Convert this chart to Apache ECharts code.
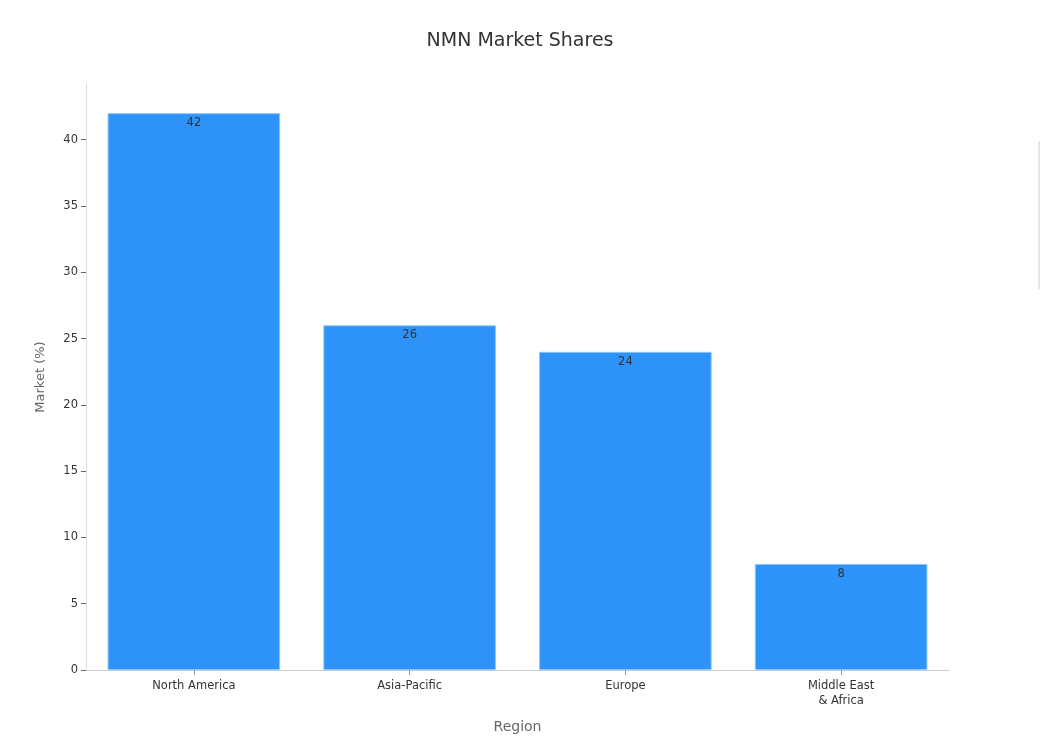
<!DOCTYPE html>
<html>
<head>
<meta charset="utf-8">
<script src="https://cdn.jsdelivr.net/npm/echarts@6/dist/echarts.min.js"></script>
<style>
  html, body { margin: 0; padding: 0; background: #fff; overflow: hidden; }
  #chart { width: 1040px; height: 756px; }
</style>
</head>
<body>
<div id="chart"></div>
<script>
// data
var regions = ['North America', 'Asia-Pacific', 'Europe', 'Middle East\n& Africa'];
var shares = [42, 26, 24, 8];
var yTicks = [0, 5, 10, 15, 20, 25, 30, 35, 40];

var chart = echarts.init(document.getElementById('chart'));
var font = 'DejaVu Sans';

chart.setOption({
  animation: false,
  textStyle: { fontFamily: font },
  title: {
    text: 'NMN Market Shares',
    left: 'center',
    top: 27,
    textStyle: { fontFamily: font, fontSize: 19, fontWeight: 'normal', color: '#333' }
  },
  grid: { left: 86, right: 91, top: 84, bottom: 86 },
  xAxis: {
    type: 'category',
    data: regions,
    name: 'Region',
    nameLocation: 'middle',
    nameGap: 50,
    nameTextStyle: { fontSize: 14, color: '#666' },
    axisLine: { lineStyle: { color: '#ccc' } },
    axisTick: { show: true, alignWithLabel: true, length: 5, lineStyle: { color: '#999' } },
    axisLabel: { fontSize: 11.5, color: '#333', margin: 9, lineHeight: 15 }
  },
  yAxis: {
    type: 'value',
    min: 0,
    max: 44.2,
    name: 'Market (%)',
    nameLocation: 'middle',
    nameGap: 39,
    nameTextStyle: { fontSize: 13, color: '#666' },
    splitLine: { show: false },
    axisLine: { show: true, lineStyle: { color: '#ddd' } },
    axisTick: { show: true, length: 5, customValues: yTicks, lineStyle: { color: '#666' } },
    axisLabel: { fontSize: 11.5, color: '#333', margin: 8, customValues: yTicks }
  },
  series: [{
    type: 'bar',
    data: shares,
    barWidth: '80%',
    itemStyle: { color: '#2e93f8', borderColor: '#8cc6ff', borderWidth: 1 },
    label: {
      show: true,
      position: 'insideTop',
      distance: 4,
      fontSize: 11.5,
      color: '#333'
    }
  }],
  graphic: [{
    type: 'rect',
    shape: { x: 1038, y: 141, width: 2, height: 148 },
    style: { fill: '#e6e6e6' }
  }]
});
</script>
</body>
</html>
